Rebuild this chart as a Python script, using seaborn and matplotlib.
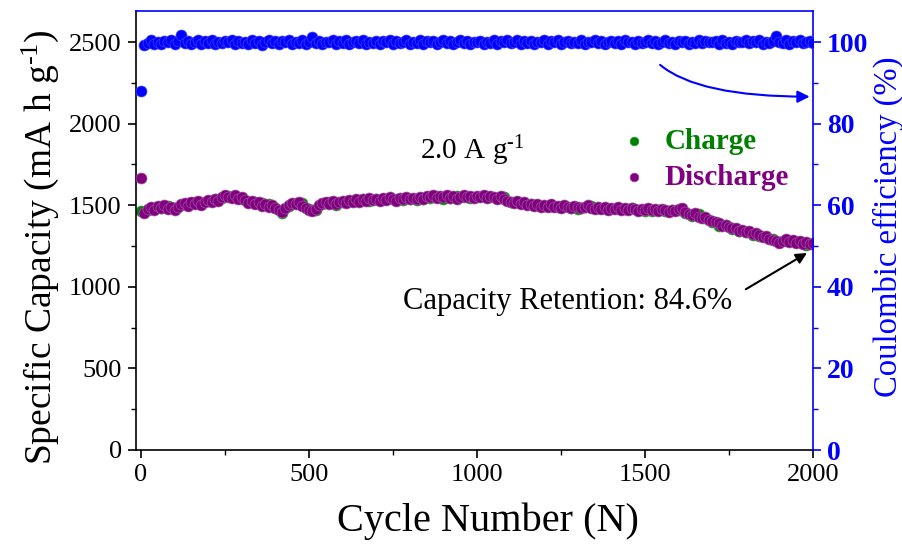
import matplotlib
matplotlib.use("Agg")
import matplotlib.pyplot as plt
import seaborn as sns
import numpy as np
import pandas as pd
from matplotlib.ticker import MultipleLocator

# ---------------- data ----------------
cycles_d = [1] + list(range(10, 2001, 10))
discharge = [1664,
    1450, 1478, 1492, 1470, 1498, 1485, 1502, 1476, 1490, 1468,
    1488, 1505, 1512, 1496, 1520, 1508, 1525, 1500, 1518, 1530,
    1522, 1540, 1528, 1550, 1565, 1552, 1546, 1560, 1538, 1548,
    1530, 1512, 1525, 1505, 1518, 1498, 1510, 1490, 1502, 1485,
    1470, 1458, 1480, 1500, 1515, 1508, 1520, 1495, 1485, 1470,
    1462, 1478, 1500, 1515, 1522, 1510, 1528, 1505, 1518, 1524,
    1512, 1530, 1518, 1535, 1522, 1540, 1528, 1545, 1532, 1538,
    1525, 1542, 1530, 1548, 1536, 1528, 1545, 1535, 1550, 1540,
    1546, 1535, 1552, 1540, 1558, 1548, 1562, 1545, 1555, 1548,
    1560, 1545, 1555, 1540, 1552, 1562, 1548, 1556, 1542, 1558,
    1550, 1562, 1545, 1558, 1548, 1540, 1555, 1535, 1528, 1520,
    1512, 1525, 1505, 1518, 1500, 1510, 1495, 1505, 1490, 1500,
    1492, 1505, 1488, 1498, 1485, 1500, 1490, 1482, 1495, 1486,
    1480, 1492, 1500, 1485, 1478, 1490, 1475, 1486, 1470, 1482,
    1476, 1488, 1472, 1480, 1468, 1485, 1475, 1465, 1478, 1470,
    1480, 1468, 1475, 1462, 1478, 1470, 1460, 1472, 1465, 1475,
    1485, 1458, 1448, 1440, 1452, 1430, 1420, 1428, 1410, 1402,
    1395, 1388, 1375, 1380, 1365, 1358, 1362, 1345, 1350, 1338,
    1342, 1325, 1330, 1315, 1305, 1310, 1295, 1285, 1278, 1268,
    1282, 1290, 1275, 1285, 1270, 1278, 1262, 1272, 1265, 1270]

cycles_c = [1] + list(range(20, 2001, 20))
charge = [1464,
    1470, 1485, 1480, 1496, 1482, 1500, 1515, 1518, 1512, 1525,
    1535, 1545, 1558, 1550, 1540, 1522, 1520, 1512, 1505, 1483,
    1455, 1495, 1512, 1515, 1478, 1468, 1510, 1520, 1502, 1518,
    1525, 1530, 1535, 1525, 1540, 1538, 1542, 1540, 1530, 1535,
    1532, 1536, 1545, 1558, 1540, 1542, 1558, 1550, 1542, 1552,
    1556, 1552, 1545, 1550, 1522, 1520, 1512, 1505, 1502, 1495,
    1500, 1492, 1495, 1485, 1478, 1488, 1495, 1485, 1482, 1478,
    1482, 1475, 1480, 1470, 1464, 1462, 1470, 1465, 1468, 1470,
    1455, 1435, 1448, 1422, 1398, 1375, 1376, 1355, 1340, 1335,
    1320, 1310, 1305, 1290, 1274, 1285, 1280, 1272, 1258, 1265]

efficiency = [88.0,
    99.2, 99.8, 100.4, 99.6, 100.1, 99.4, 100.3, 99.9, 100.6, 99.5,
    100.2, 101.8, 99.7, 100.3, 99.5, 100.0, 100.5, 99.6, 100.2, 99.8,
    100.4, 99.5, 100.1, 99.7, 100.3, 99.9, 100.6, 99.4, 100.2, 99.8,
    100.1, 99.6, 100.4, 99.8, 100.2, 99.3, 100.0, 100.5, 99.7, 100.3,
    99.6, 100.2, 99.9, 100.5, 99.5, 100.1, 99.8, 100.4, 99.6, 100.0,
    101.3, 99.7, 100.3, 99.5, 100.1, 99.9, 100.6, 99.6, 100.2, 99.8,
    100.4, 99.5, 100.0, 100.3, 99.7, 100.5, 99.4, 100.1, 99.8, 100.2,
    99.6, 100.3, 99.9, 100.6, 99.5, 100.2, 99.7, 100.0, 100.4, 99.6,
    100.1, 99.8, 100.5, 99.5, 100.2, 99.9, 100.3, 99.6, 100.0, 100.4,
    99.7, 100.2, 99.5, 100.1, 100.6, 99.8, 100.3, 99.4, 100.0, 99.9,
    100.3, 99.6, 100.1, 99.8, 100.5, 99.5, 100.2, 99.9, 100.4, 99.7,
    100.0, 100.4, 99.6, 100.2, 99.8, 100.3, 99.5, 100.1, 99.9, 100.5,
    99.6, 100.2, 99.9, 100.4, 99.5, 100.0, 100.3, 99.7, 100.1, 99.8,
    100.4, 99.6, 100.1, 99.9, 100.5, 99.7, 100.2, 99.5, 100.0, 100.3,
    99.8, 100.2, 99.5, 100.4, 99.9, 100.1, 99.6, 100.3, 99.8, 100.0,
    100.5, 99.7, 100.2, 99.6, 100.0, 100.4, 99.8, 100.1, 99.5, 100.3,
    99.9, 100.3, 99.6, 100.1, 99.8, 100.5, 99.7, 100.2, 99.9, 100.0,
    100.2, 99.6, 100.4, 99.8, 100.1, 99.5, 100.3, 99.9, 100.0, 100.6,
    99.7, 100.2, 99.9, 100.4, 99.6, 100.1, 99.8, 100.3, 101.5, 100.0,
    99.8, 100.4, 99.6, 100.2, 99.9, 100.5, 99.7, 100.1, 100.3, 99.8]

left_ticks = [0, 500, 1000, 1500, 2000, 2500]
right_ticks = [0, 20, 40, 60, 80, 100]
x_ticks = [0, 500, 1000, 1500, 2000]

# ---------------- style ----------------
sns.set_theme(style="ticks")
plt.rcParams["font.family"] = ["Liberation Serif", "DejaVu Serif"]
plt.rcParams["mathtext.fontset"] = "custom"
plt.rcParams["mathtext.rm"] = "Liberation Serif"
plt.rcParams["mathtext.it"] = "Liberation Serif:italic"
plt.rcParams["mathtext.bf"] = "Liberation Serif:bold"
plt.rcParams["text.color"] = "black"
plt.rcParams["axes.labelcolor"] = "black"

GREEN = "#008000"
PURPLE = "#800080"
BLUE = "#0000FF"

fig = plt.figure(figsize=(9.03, 5.47), dpi=100)
ax = fig.add_axes([135.6 / 903, 97 / 547, 677.4 / 903, 439 / 547])
ax2 = ax.twinx()

df_c = pd.DataFrame({"cycle": cycles_c, "cap": charge})
df_d = pd.DataFrame({"cycle": cycles_d, "cap": discharge})
df_e = pd.DataFrame({"cycle": cycles_d, "ce": efficiency})

sz = 62
sns.scatterplot(data=df_c, x="cycle", y="cap", ax=ax, color=GREEN, s=sz,
                edgecolor="#30A030", linewidth=0.5, label="Charge", zorder=2)
sns.scatterplot(data=df_d, x="cycle", y="cap", ax=ax, color=PURPLE, s=sz,
                edgecolor="#A050A0", linewidth=0.5, label="Discharge", zorder=3)
sns.scatterplot(data=df_e, x="cycle", y="ce", ax=ax2, color=BLUE, s=sz,
                edgecolor="#4040FF", linewidth=0.5, legend=False, zorder=3)

ax.set_xlim(-16, 2000)
ax.set_ylim(0, 2690)
ax2.set_ylim(0, 107.6)

ax.set_xticks(x_ticks)
ax.set_yticks(left_ticks)
ax2.set_yticks(right_ticks)
ax.xaxis.set_minor_locator(MultipleLocator(250))
ax.yaxis.set_minor_locator(MultipleLocator(250))
ax2.yaxis.set_minor_locator(MultipleLocator(10))

ax.tick_params(axis="both", which="major", direction="out", length=6, width=1.2,
               labelsize=19, colors="black", pad=4)
ax.tick_params(axis="both", which="minor", direction="out", length=3.5, width=1.0,
               colors="black")
ax2.tick_params(axis="y", which="major", direction="out", length=6, width=1.2,
                labelsize=20, colors=BLUE, pad=4)
ax2.tick_params(axis="y", which="minor", direction="out", length=3.5, width=1.0,
                colors=BLUE)
for lab in ax2.get_yticklabels():
    lab.set_fontweight("bold")

for sp in ["left", "bottom"]:
    ax.spines[sp].set_color("black")
    ax.spines[sp].set_linewidth(1.2)
ax.spines["top"].set_visible(False)
ax.spines["right"].set_visible(False)
ax2.spines["left"].set_visible(False)
ax2.spines["bottom"].set_visible(False)
ax2.spines["right"].set_color(BLUE)
ax2.spines["right"].set_linewidth(1.2)
ax2.spines["top"].set_color(BLUE)
ax2.spines["top"].set_linewidth(1.2)

SUP = "$\\mathregular{^{\\text{-}1}}$"
ax.set_xlabel("Cycle Number (N)", fontsize=29, labelpad=12, color="black")
ax.xaxis.label.set_x(0.5195)
ax.set_ylabel("Specific Capacity (mA h g" + SUP + ")", fontsize=27, labelpad=6,
              color="black")
ax.yaxis.label.set_y(0.462)
ax2.set_ylabel("Coulombic efficiency (%)", fontsize=23.5, color=BLUE, labelpad=3)
ax2.yaxis.label.set_y(0.508)

# legend
leg = ax.legend(loc="upper left", bbox_to_anchor=(0.675, 0.793), frameon=False,
                prop={"family": "Liberation Serif", "weight": "bold", "size": 21},
                handletextpad=0.55, labelspacing=0.3, markerscale=0.8,
                handlelength=1.0)
for txt, col in zip(leg.get_texts(), [GREEN, PURPLE]):
    txt.set_color(col)

# annotations
ax.text(830, 1832, "2.0 A g" + SUP, fontsize=21, ha="left",
        va="center", color="black")
ax.text(780, 907, "Capacity Retention: 84.6%", fontsize=22, ha="left",
        va="center", color="black")
ax.annotate("", xy=(1982, 1207), xytext=(1800, 985),
            arrowprops=dict(arrowstyle="-|>", color="black", lw=1.5,
                            mutation_scale=16, shrinkA=0, shrinkB=0))
ax2.annotate("", xy=(1990, 86.6), xytext=(1545, 94.4),
             arrowprops=dict(arrowstyle="-|>", color=BLUE, lw=1.5,
                             mutation_scale=18, shrinkA=0, shrinkB=0,
                             connectionstyle="angle3,angleA=-40,angleB=0"))

fig.savefig("out.png", dpi=100)
